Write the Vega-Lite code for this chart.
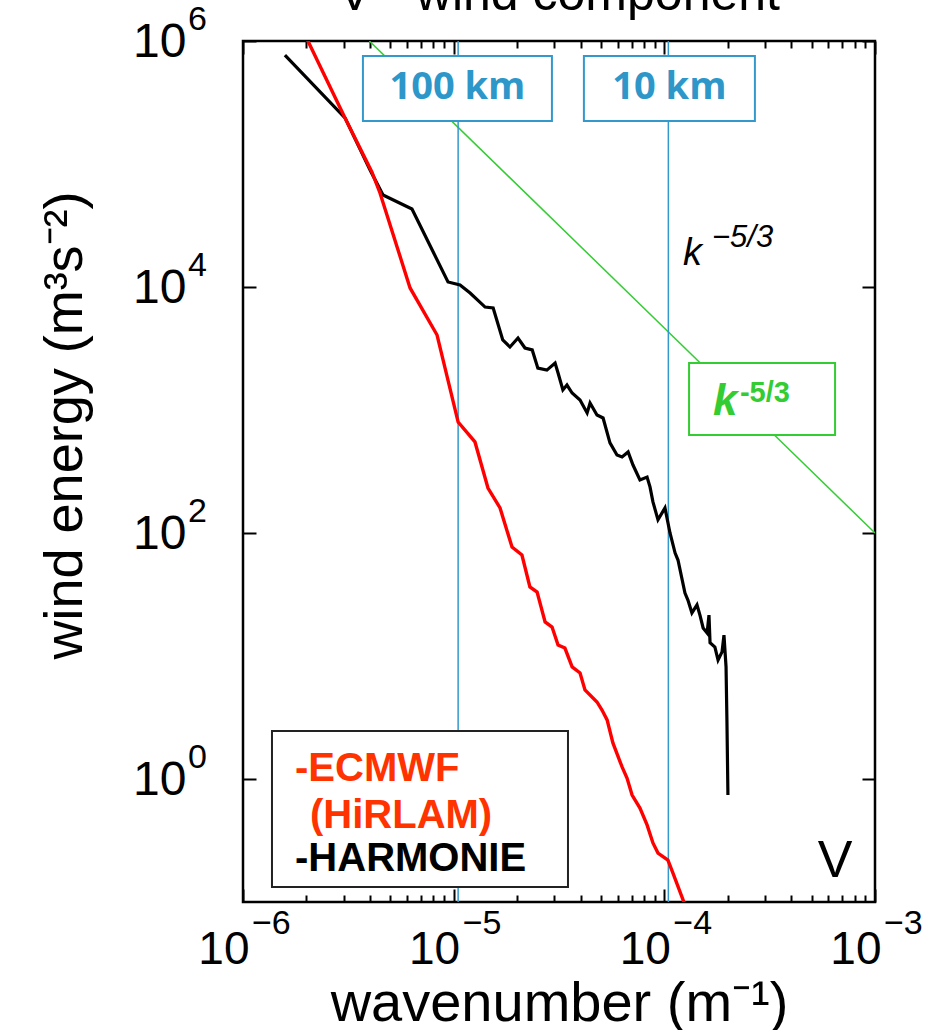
{
  "$schema": "https://vega.github.io/schema/vega-lite/v6.json",
  "width": 632,
  "height": 861,
  "autosize": {"type": "none"},
  "padding": {"left": 243, "top": 41, "right": 62, "bottom": 128},
  "background": "white",
  "title": {"text": "V - wind component", "fontSize": 50, "font": "Liberation Sans", "fontWeight": "normal", "color": "black", "frame": "group", "anchor": "middle", "baseline": "alphabetic", "offset": 0, "dy": 57},
  "config": {
    "view": {"stroke": "black", "strokeWidth": 2.5},
    "axis": {"grid": false, "domain": false, "tickColor": "black", "tickWidth": 2, "labelColor": "black", "titleColor": "black", "labelFont": "Liberation Sans", "titleFont": "Liberation Sans", "titleFontWeight": "normal", "labelFlush": false, "labelOverlap": false, "labelBound": false}
  },
  "datasets": {
    "harmonie": [
      {"k": 1.581e-6, "E": 7.69e5}, {"k": 3.05e-6, "E": 2.37e5}, {"k": 4.01e-6, "E": 8.93e4}, {"k": 4.62e-6, "E": 5.6e4},
      {"k": 6.34e-6, "E": 4.31e4}, {"k": 9.4e-6, "E": 1.099e4}, {"k": 1.072e-5, "E": 1.038e4}, {"k": 1.197e-5, "E": 8930},
      {"k": 1.41e-5, "E": 6870}, {"k": 1.54e-5, "E": 6750}, {"k": 1.71e-5, "E": 3710}, {"k": 1.85e-5, "E": 3250},
      {"k": 2.02e-5, "E": 3850}, {"k": 2.18e-5, "E": 3190}, {"k": 2.36e-5, "E": 3080}, {"k": 2.51e-5, "E": 2190},
      {"k": 2.77e-5, "E": 2110}, {"k": 3.03e-5, "E": 2410}, {"k": 3.13e-5, "E": 2000}, {"k": 3.3e-5, "E": 1455},
      {"k": 3.45e-5, "E": 1596}, {"k": 3.65e-5, "E": 1374}, {"k": 3.98e-5, "E": 1205}, {"k": 4.3e-5, "E": 946},
      {"k": 4.44e-5, "E": 1140}, {"k": 4.79e-5, "E": 910}, {"k": 5.12e-5, "E": 861}, {"k": 5.52e-5, "E": 540},
      {"k": 5.96e-5, "E": 431}, {"k": 6.3e-5, "E": 415}, {"k": 6.73e-5, "E": 456}, {"k": 7.1e-5, "E": 357},
      {"k": 7.66e-5, "E": 270}, {"k": 8.28e-5, "E": 285}, {"k": 8.55e-5, "E": 237}, {"k": 8.83e-5, "E": 179},
      {"k": 9.33e-5, "E": 128}, {"k": 1.007e-4, "E": 160}, {"k": 1.064e-4, "E": 100}, {"k": 1.125e-4, "E": 68.7},
      {"k": 1.161e-4, "E": 60.3}, {"k": 1.253e-4, "E": 32.5}, {"k": 1.294e-4, "E": 28.5}, {"k": 1.352e-4, "E": 22.4},
      {"k": 1.429e-4, "E": 26.0}, {"k": 1.476e-4, "E": 21.5}, {"k": 1.528e-4, "E": 16.9}, {"k": 1.596e-4, "E": 15.4},
      {"k": 1.629e-4, "E": 21.5}, {"k": 1.648e-4, "E": 12.8}, {"k": 1.738e-4, "E": 11.8}, {"k": 1.799e-4, "E": 9.27},
      {"k": 1.879e-4, "E": 10.8}, {"k": 1.919e-4, "E": 14.8}, {"k": 1.963e-4, "E": 8.15}, {"k": 1.982e-4, "E": 3.02},
      {"k": 2.004e-4, "E": 0.741}
    ],
    "ecmwf": [
      {"k": 1.98e-6, "E": 1.1e6}, {"k": 3.05e-6, "E": 2.37e5}, {"k": 4.09e-6, "E": 8.61e4}, {"k": 4.47e-6, "E": 5.81e4},
      {"k": 6.21e-6, "E": 9820}, {"k": 8.34e-6, "E": 4070}, {"k": 1.05e-5, "E": 798}, {"k": 1.262e-5, "E": 550},
      {"k": 1.455e-5, "E": 232}, {"k": 1.66e-5, "E": 160}, {"k": 1.892e-5, "E": 76.9}, {"k": 2.109e-5, "E": 66.2},
      {"k": 2.301e-5, "E": 36.4}, {"k": 2.489e-5, "E": 33.1}, {"k": 2.716e-5, "E": 18.9}, {"k": 2.931e-5, "E": 17.2},
      {"k": 3.13e-5, "E": 12.3}, {"k": 3.373e-5, "E": 11.6}, {"k": 3.65e-5, "E": 8.15}, {"k": 3.98e-5, "E": 7.28},
      {"k": 4.2e-5, "E": 5.3}, {"k": 4.79e-5, "E": 4.23}, {"k": 5.06e-5, "E": 3.64}, {"k": 5.35e-5, "E": 3.02},
      {"k": 5.7e-5, "E": 1.963}, {"k": 6.3e-5, "E": 1.253}, {"k": 6.65e-5, "E": 1.019}, {"k": 7.03e-5, "E": 0.741},
      {"k": 7.66e-5, "E": 0.581}, {"k": 8.28e-5, "E": 0.423}, {"k": 8.83e-5, "E": 0.302}, {"k": 9.33e-5, "E": 0.25},
      {"k": 1.04e-4, "E": 0.219}, {"k": 1.099e-4, "E": 0.172}, {"k": 1.253e-4, "E": 0.0946}
    ],
    "ref": [{"k": 3.98e-6, "E": 1e6}, {"k": 1e-3, "E": 100}],
    "km": [{"k": 1.05e-5}, {"k": 1.045e-4}],
    "legend": [
      {"k": 1.766e-6, "E": 0.964, "label": "-ECMWF", "model": "ECMWF"},
      {"k": 2.08e-6, "E": 0.4, "label": "(HiRLAM)", "model": "ECMWF"},
      {"k": 1.766e-6, "E": 0.1786, "label": "-HARMONIE", "model": "HARMONIE"}
    ],
    "xexp": [{"k": 1e-6, "exp": "−6"}, {"k": 1e-5, "exp": "−5"}, {"k": 1e-4, "exp": "−4"}, {"k": 1e-3, "exp": "−3"}],
    "yexp": [{"E": 1, "exp": "0"}, {"E": 100, "exp": "2"}, {"E": 10000, "exp": "4"}, {"E": 1000000, "exp": "6"}]
  },
  "resolve": {"axis": {"x": "independent", "y": "independent"}},
  "layer": [
    {
      "data": {"name": "ref"},
      "mark": {"type": "line", "color": "#33cc33", "strokeWidth": 1.5, "clip": true},
      "encoding": {
        "x": {"field": "k", "type": "quantitative", "scale": {"type": "log", "domain": [1e-6, 1e-3], "nice": false},
              "axis": {"orient": "bottom", "values": [2e-6, 3e-6, 4e-6, 5e-6, 6e-6, 7e-6, 8e-6, 9e-6, 2e-5, 3e-5, 4e-5, 5e-5, 6e-5, 7e-5, 8e-5, 9e-5, 2e-4, 3e-4, 4e-4, 5e-4, 6e-4, 7e-4, 8e-4, 9e-4], "labels": false, "tickSize": -7, "title": null}},
        "y": {"field": "E", "type": "quantitative", "scale": {"type": "log", "domain": [0.1, 1e6], "nice": false}, "axis": null}
      }
    },
    {
      "data": {"name": "km"},
      "mark": {"type": "rule", "color": "#3399cc", "strokeWidth": 1.5},
      "encoding": {
        "x": {"field": "k", "type": "quantitative", "scale": {"type": "log", "domain": [1e-6, 1e-3], "nice": false},
              "axis": {"orient": "top", "values": [2e-6, 3e-6, 4e-6, 5e-6, 6e-6, 7e-6, 8e-6, 9e-6, 2e-5, 3e-5, 4e-5, 5e-5, 6e-5, 7e-5, 8e-5, 9e-5, 2e-4, 3e-4, 4e-4, 5e-4, 6e-4, 7e-4, 8e-4, 9e-4], "labels": false, "tickSize": -7, "title": null}}
      }
    },
    {
      "data": {"name": "harmonie"},
      "mark": {"type": "line", "color": "black", "strokeWidth": 3.2, "clip": true},
      "encoding": {
        "x": {"field": "k", "type": "quantitative", "scale": {"type": "log", "domain": [1e-6, 1e-3], "nice": false},
              "axis": {"orient": "bottom", "values": [1e-6, 1e-5, 1e-4, 1e-3], "labelExpr": "'10'", "labelAlign": "right", "labelOffset": 6, "labelBaseline": "alphabetic", "labelFontSize": 46, "labelPadding": 74, "tickSize": -13,
                       "title": "wavenumber (m⁻¹)", "titleFontSize": 56, "titleBaseline": "alphabetic", "titleY": 118}},
        "y": {"field": "E", "type": "quantitative", "scale": {"type": "log", "domain": [0.1, 1e6], "nice": false},
              "axis": {"orient": "left", "values": [1, 100, 10000, 1000000], "labelExpr": "'10'", "labelAlign": "right", "labelBaseline": "alphabetic", "labelOffset": 15, "labelFontSize": 48, "labelPadding": 70, "tickSize": -13,
                       "title": "wind energy (m³s⁻²)", "titleFontSize": 54, "titleBaseline": "alphabetic", "titleAlign": "left", "titleX": -162, "titleY": 618, "titleAngle": -90}}
      }
    },
    {
      "data": {"name": "ecmwf"},
      "mark": {"type": "line", "color": "#ff0000", "strokeWidth": 3.4, "clip": true},
      "encoding": {
        "x": {"field": "k", "type": "quantitative", "scale": {"type": "log", "domain": [1e-6, 1e-3], "nice": false},
              "axis": {"orient": "top", "values": [1e-6, 1e-5, 1e-4, 1e-3], "labels": false, "tickSize": -13, "title": null}},
        "y": {"field": "E", "type": "quantitative", "scale": {"type": "log", "domain": [0.1, 1e6], "nice": false},
              "axis": {"orient": "right", "values": [1, 100, 10000, 1000000], "labels": false, "tickSize": -13, "title": null}}
      }
    },
    {
      "data": {"values": [{"k": 1.042e-5, "E": 411000}]},
      "mark": {"type": "point", "shape": "M-1,-0.344L1,-0.344L1,0.344L-1,0.344Z", "size": 35721, "filled": true, "fill": "white", "stroke": "#3399cc", "strokeWidth": 2, "opacity": 1, "fillOpacity": 1, "strokeOpacity": 1},
      "encoding": {
        "x": {"field": "k", "type": "quantitative", "scale": {"type": "log", "domain": [1e-6, 1e-3], "nice": false}, "axis": null},
        "y": {"field": "E", "type": "quantitative", "scale": {"type": "log", "domain": [0.1, 1e6], "nice": false}, "axis": null}
      }
    },
    {
      "data": {"values": [{"k": 1.057e-4, "E": 411000}]},
      "mark": {"type": "point", "shape": "M-1,-0.38L1,-0.38L1,0.38L-1,0.38Z", "size": 29241, "filled": true, "fill": "white", "stroke": "#3399cc", "strokeWidth": 2, "opacity": 1, "fillOpacity": 1, "strokeOpacity": 1},
      "encoding": {
        "x": {"field": "k", "type": "quantitative", "scale": {"type": "log", "domain": [1e-6, 1e-3], "nice": false}, "axis": null},
        "y": {"field": "E", "type": "quantitative", "scale": {"type": "log", "domain": [0.1, 1e6], "nice": false}, "axis": null}
      }
    },
    {
      "data": {"values": [{"k": 2.91e-4, "E": 1227}]},
      "mark": {"type": "point", "shape": "M-1,-0.493L1,-0.493L1,0.493L-1,0.493Z", "size": 21316, "filled": true, "fill": "white", "stroke": "#33cc33", "strokeWidth": 2, "opacity": 1, "fillOpacity": 1, "strokeOpacity": 1},
      "encoding": {
        "x": {"field": "k", "type": "quantitative", "scale": {"type": "log", "domain": [1e-6, 1e-3], "nice": false}, "axis": null},
        "y": {"field": "E", "type": "quantitative", "scale": {"type": "log", "domain": [0.1, 1e6], "nice": false}, "axis": null}
      }
    },
    {
      "data": {"values": [{"k": 6.92e-6, "E": 0.57}]},
      "mark": {"type": "point", "shape": "M-1,-0.527L1,-0.527L1,0.527L-1,0.527Z", "size": 87616, "filled": true, "fill": "white", "stroke": "#222222", "strokeWidth": 2, "opacity": 1, "fillOpacity": 1, "strokeOpacity": 1},
      "encoding": {
        "x": {"field": "k", "type": "quantitative", "scale": {"type": "log", "domain": [1e-6, 1e-3], "nice": false}, "axis": null},
        "y": {"field": "E", "type": "quantitative", "scale": {"type": "log", "domain": [0.1, 1e6], "nice": false}, "axis": null}
      }
    },
    {
      "data": {"values": [{"k": 1.042e-5, "E": 411000, "label": "100 km"}, {"k": 1.057e-4, "E": 411000, "label": "10 km"}]},
      "mark": {"type": "text", "font": "Open Sans", "fontWeight": "bold", "fontSize": 38, "color": "#2e97c9", "align": "center", "baseline": "middle"},
      "encoding": {
        "x": {"field": "k", "type": "quantitative", "scale": {"type": "log", "domain": [1e-6, 1e-3], "nice": false}, "axis": null},
        "y": {"field": "E", "type": "quantitative", "scale": {"type": "log", "domain": [0.1, 1e6], "nice": false}, "axis": null},
        "text": {"field": "label"}
      }
    },
    {
      "data": {"values": [{"k": 1.702e-4, "E": 910, "label": "k"}]},
      "mark": {"type": "text", "font": "Liberation Sans", "fontWeight": "bold", "fontStyle": "italic", "fontSize": 44, "color": "#33cc33", "align": "left", "baseline": "alphabetic"},
      "encoding": {
        "x": {"field": "k", "type": "quantitative", "scale": {"type": "log", "domain": [1e-6, 1e-3], "nice": false}, "axis": null},
        "y": {"field": "E", "type": "quantitative", "scale": {"type": "log", "domain": [0.1, 1e6], "nice": false}, "axis": null},
        "text": {"field": "label"}
      }
    },
    {
      "data": {"values": [{"k": 2.285e-4, "E": 1161, "label": "-5/3"}]},
      "mark": {"type": "text", "font": "Liberation Sans", "fontWeight": "bold", "fontSize": 29, "color": "#33cc33", "align": "left", "baseline": "alphabetic"},
      "encoding": {
        "x": {"field": "k", "type": "quantitative", "scale": {"type": "log", "domain": [1e-6, 1e-3], "nice": false}, "axis": null},
        "y": {"field": "E", "type": "quantitative", "scale": {"type": "log", "domain": [0.1, 1e6], "nice": false}, "axis": null},
        "text": {"field": "label"}
      }
    },
    {
      "data": {"values": [{"k": 1.227e-4, "E": 15100, "label": "k"}]},
      "mark": {"type": "text", "font": "Liberation Sans", "fontStyle": "italic", "fontSize": 38, "color": "black", "align": "left", "baseline": "alphabetic"},
      "encoding": {
        "x": {"field": "k", "type": "quantitative", "scale": {"type": "log", "domain": [1e-6, 1e-3], "nice": false}, "axis": null},
        "y": {"field": "E", "type": "quantitative", "scale": {"type": "log", "domain": [0.1, 1e6], "nice": false}, "axis": null},
        "text": {"field": "label"}
      }
    },
    {
      "data": {"values": [{"k": 1.683e-4, "E": 21100, "label": "−5/3"}]},
      "mark": {"type": "text", "font": "Liberation Sans", "fontStyle": "italic", "fontSize": 31, "color": "black", "align": "left", "baseline": "alphabetic"},
      "encoding": {
        "x": {"field": "k", "type": "quantitative", "scale": {"type": "log", "domain": [1e-6, 1e-3], "nice": false}, "axis": null},
        "y": {"field": "E", "type": "quantitative", "scale": {"type": "log", "domain": [0.1, 1e6], "nice": false}, "axis": null},
        "text": {"field": "label"}
      }
    },
    {
      "data": {"name": "legend"},
      "mark": {"type": "text", "font": "Liberation Sans", "fontWeight": "bold", "fontSize": 40, "align": "left", "baseline": "alphabetic"},
      "encoding": {
        "x": {"field": "k", "type": "quantitative", "scale": {"type": "log", "domain": [1e-6, 1e-3], "nice": false}, "axis": null},
        "y": {"field": "E", "type": "quantitative", "scale": {"type": "log", "domain": [0.1, 1e6], "nice": false}, "axis": null},
        "text": {"field": "label"},
        "color": {"field": "model", "type": "nominal", "scale": {"domain": ["ECMWF", "HARMONIE"], "range": ["#ff3300", "#000000"]}, "legend": null}
      }
    },
    {
      "data": {"values": [{"k": 6.46e-4, "E": 0.1596, "label": "V"}]},
      "mark": {"type": "text", "font": "Liberation Sans", "fontSize": 52, "color": "black", "align": "center", "baseline": "alphabetic"},
      "encoding": {
        "x": {"field": "k", "type": "quantitative", "scale": {"type": "log", "domain": [1e-6, 1e-3], "nice": false}, "axis": null},
        "y": {"field": "E", "type": "quantitative", "scale": {"type": "log", "domain": [0.1, 1e6], "nice": false}, "axis": null},
        "text": {"field": "label"}
      }
    },
    {
      "data": {"name": "xexp"},
      "mark": {"type": "text", "font": "Liberation Sans", "fontSize": 34, "color": "black", "align": "left", "baseline": "alphabetic", "dx": 9, "dy": 32},
      "encoding": {
        "x": {"field": "k", "type": "quantitative", "scale": {"type": "log", "domain": [1e-6, 1e-3], "nice": false}, "axis": null},
        "y": {"datum": 0.1, "type": "quantitative", "scale": {"type": "log", "domain": [0.1, 1e6], "nice": false}, "axis": null},
        "text": {"field": "exp"}
      }
    },
    {
      "data": {"name": "yexp"},
      "mark": {"type": "text", "font": "Liberation Sans", "fontSize": 34, "color": "black", "align": "left", "baseline": "alphabetic", "dx": -55, "dy": -11},
      "encoding": {
        "x": {"datum": 1e-6, "type": "quantitative", "scale": {"type": "log", "domain": [1e-6, 1e-3], "nice": false}, "axis": null},
        "y": {"field": "E", "type": "quantitative", "scale": {"type": "log", "domain": [0.1, 1e6], "nice": false}, "axis": null},
        "text": {"field": "exp"}
      }
    }
  ]
}
